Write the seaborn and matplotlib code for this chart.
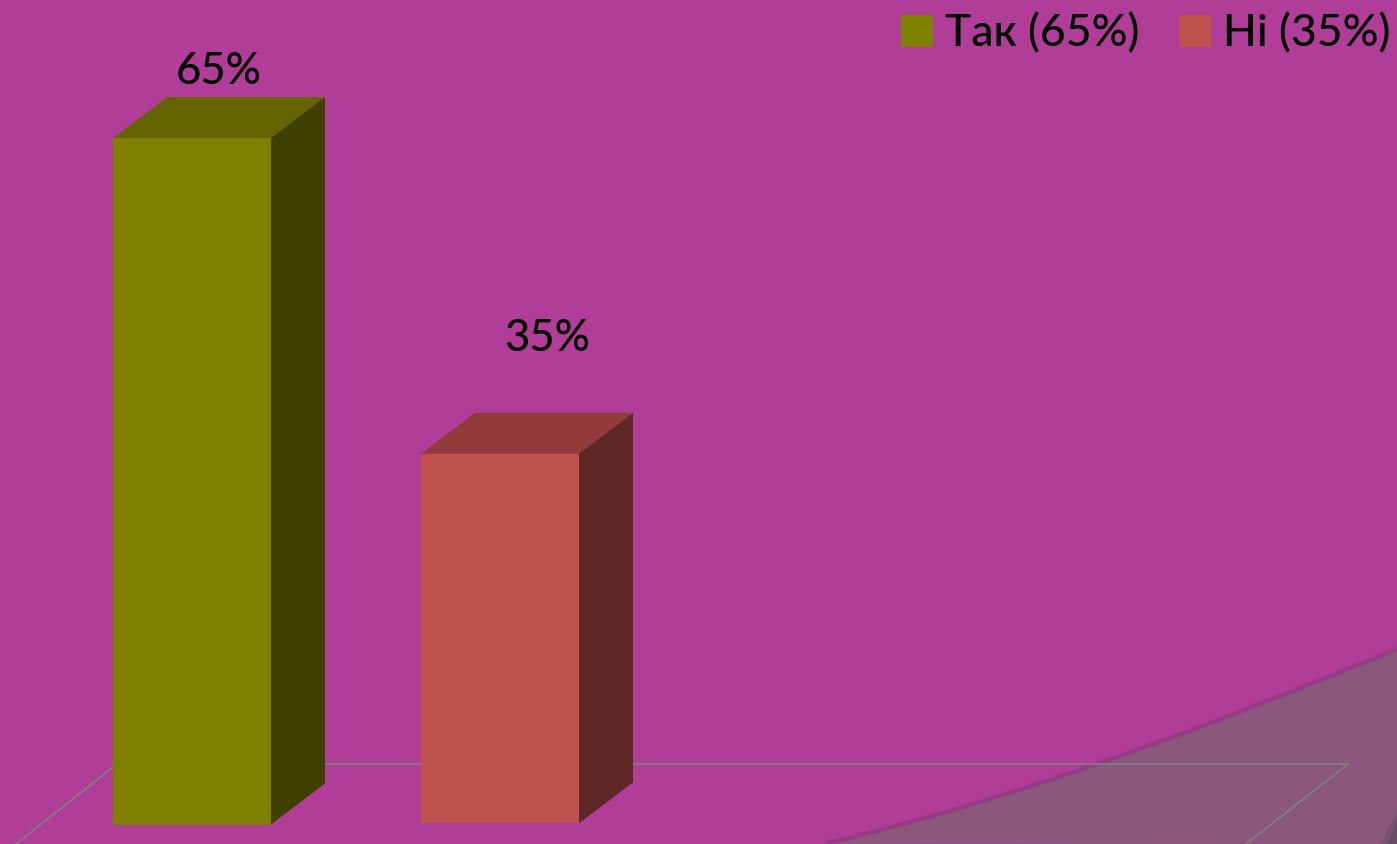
import matplotlib
matplotlib.use("Agg")
import matplotlib.pyplot as plt
import numpy as np
import pandas as pd
import seaborn as sns
from matplotlib.font_manager import FontProperties
from matplotlib.patches import Patch, Polygon
from matplotlib.transforms import Affine2D

categories = ["Так", "Ні"]
values = [65, 35]
value_labels = ["65%", "35%"]
legend_labels = ["Так (65%)", "Ні (35%)"]
front_colors = ["#808000", "#C0504D"]
top_colors = ["#646400", "#933B3A"]
side_colors = ["#404000", "#5F2725"]
baselines = [0.0, 0.1]

BG = "#B03D97"
PANEL = "#8A577D"
FONT = "Lato"
W, H = 1397, 844
PX_PER_CAT = 308.0
PX_PER_UNIT = 10.56
X0_PX, Y0_PX = 192.0, 824.5
DEPTH_X, DEPTH_Y = 54 / PX_PER_CAT, 41 / PX_PER_UNIT

sns.set_theme(style="white")
plt.rcParams["font.family"] = [FONT, "DejaVu Sans"]

fig = plt.figure(figsize=(W / 100, H / 100), dpi=100, facecolor=BG)
ax = fig.add_axes([0, 0, 1, 1], facecolor="none")
px = Affine2D().scale(1, -1).translate(0, H)

# background decoration, in pixel coordinates: a smooth arc through the read points
arc_x = [827, 891, 994, 1097, 1181, 1299, 1397]
arc_y = [844, 827, 798, 765, 735, 688, 650]
smooth_x = np.linspace(827, 1397, 120)
smooth_y = np.polyval(np.polyfit(arc_x, arc_y, 3), smooth_x)
curve = list(zip(smooth_x, smooth_y))
fig.patches.append(Polygon(curve + [(1397, 844)], closed=True, fc=PANEL, ec="none", transform=px, zorder=-3))
for lw, alpha in [(4.0, 0.25), (2.4, 0.45)]:
    fig.add_artist(plt.Line2D(smooth_x, smooth_y - 0.5, color="#8E3480", lw=lw, alpha=alpha, transform=px, zorder=-2))
for corner, alpha in [([(1397, 812), (1380, 844), (1397, 844)], 0.35), ([(1397, 822), (1387, 844), (1397, 844)], 0.6)]:
    fig.patches.append(Polygon(corner, closed=True, fc="#5E4A5C", ec="none", alpha=alpha, transform=px, zorder=-2))
floor = [(16, 844), (117, 764), (1348, 764), (1246, 844)]
xs, ys = zip(*floor)
fig.add_artist(plt.Line2D(xs, ys, color="#808080", lw=1.2, transform=px, zorder=-1))

df = pd.DataFrame({"category": categories, "value": values})
sns.barplot(data=df, x="category", y="value", hue="category", palette=front_colors,
            width=158 / PX_PER_CAT, legend=False, saturation=1, linewidth=0, edgecolor="none",
            ax=ax, zorder=3)
ax.set_xlim(-X0_PX / PX_PER_CAT, (W - X0_PX) / PX_PER_CAT)
ax.set_ylim(-(H - Y0_PX) / PX_PER_UNIT, Y0_PX / PX_PER_UNIT)
ax.axis("off")

for bar, base, top, side in zip(ax.patches, baselines, top_colors, side_colors):
    bar.set_y(base)
    x0, x1, y0, y1 = bar.get_x(), bar.get_x() + bar.get_width(), base, base + bar.get_height()
    ax.add_patch(Polygon([(x0, y1), (x0 + DEPTH_X, y1 + DEPTH_Y), (x1 + DEPTH_X, y1 + DEPTH_Y), (x1, y1)],
                         closed=True, fc=top, ec="none", zorder=3))
    ax.add_patch(Polygon([(x1, y0), (x1 + DEPTH_X, y0 + DEPTH_Y), (x1 + DEPTH_X, y1 + DEPTH_Y), (x1, y1)],
                         closed=True, fc=side, ec="none", zorder=3))

# data labels
label_font = FontProperties(family=FONT, size=31.5, weight="medium")
ax.text(0.088, values[0] + 6.35, value_labels[0], ha="center", va="center", fontproperties=label_font, color="black")
ax.text(1.155, values[1] + 11.0, value_labels[1], ha="center", va="center", fontproperties=label_font, color="black")

# legend
handles = [Patch(fc=c, ec="none") for c in front_colors]
fig.legend(handles, legend_labels, loc="upper right", bbox_to_anchor=(1393 / W, 1 - 11 / H), ncol=2, frameon=False,
           prop=FontProperties(family=FONT, size=32, weight="medium"),
           handlelength=0.72, handleheight=0.72, handletextpad=0.285, columnspacing=0.875,
           borderaxespad=0, borderpad=0.05, labelcolor="black")

fig.savefig("out.png", dpi=100, facecolor=BG)
